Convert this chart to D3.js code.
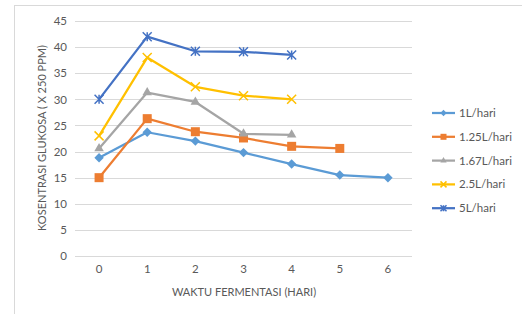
<!DOCTYPE html>
<html>
<head>
<meta charset="utf-8">
<script src="https://cdn.jsdelivr.net/npm/d3@7"></script>
<style>
  body { margin: 0; background: #fff; }
  text { font-family: Lato, "Open Sans", sans-serif; fill: #595959; }
</style>
</head>
<body>
<svg id="chart" width="522" height="314"></svg>
<script>
// data
var days = [0, 1, 2, 3, 4, 5, 6];
var yTicks = [0, 5, 10, 15, 20, 25, 30, 35, 40, 45];
var seriesNames = ["1L/hari", "1.25L/hari", "1.67L/hari", "2.5L/hari", "5L/hari"];
var s1L = [18.8, 23.7, 22.0, 19.8, 17.6, 15.5, 15.0];
var s125L = [15.0, 26.3, 23.8, 22.6, 21.0, 20.6];
var s167L = [20.6, 31.3, 29.5, 23.4, 23.2];
var s25L = [23.0, 38.0, 32.4, 30.7, 30.0];
var s5L = [30.0, 42.0, 39.2, 39.1, 38.5];

var colors = ["#5b9bd5", "#ed7d31", "#a5a5a5", "#ffc000", "#4472c4"];
var markers = ["diamond", "square", "triangle", "x", "star"];
var allSeries = [s1L, s125L, s167L, s25L, s5L].map(function(vals, i) {
    return { name: seriesNames[i], color: colors[i], marker: markers[i],
             points: vals.map(function(v, j) { return { day: days[j], value: v }; }) };
});

var svg = d3.select("#chart");

// outer chart border (right/bottom sit outside the crop)
svg.append("rect")
    .attr("x", 14.5).attr("y", 5.5)
    .attr("width", 540).attr("height", 340)
    .attr("fill", "none").attr("stroke", "#d9d9d9");

var x = d3.scaleBand().domain(days).range([75, 412]);
var y = d3.scaleLinear().domain([0, 45]).range([256, 21]);

// gridlines
svg.append("g").selectAll("line")
    .data(yTicks)
    .enter().append("line")
    .attr("x1", 75).attr("x2", 412)
    .attr("y1", function(d) { return Math.round(y(d)) + 0.5; })
    .attr("y2", function(d) { return Math.round(y(d)) + 0.5; })
    .attr("stroke", "#d9d9d9").attr("stroke-width", 1);

var yAxis = svg.append("g")
    .attr("transform", "translate(67,0)")
    .call(d3.axisLeft(y).tickValues(yTicks).tickSize(0).tickPadding(0));
yAxis.select(".domain").remove();
yAxis.selectAll("text").style("font-size", "11.5px").style("font-family", "Lato, sans-serif").attr("fill", "#595959");

var xAxis = svg.append("g")
    .attr("transform", "translate(0,265)")
    .call(d3.axisBottom(x).tickSize(0).tickPadding(0));
xAxis.select(".domain").remove();
xAxis.selectAll("text").style("font-size", "11.5px").style("font-family", "Lato, sans-serif").attr("fill", "#595959");

svg.append("text")
    .attr("x", 244).attr("y", 296)
    .attr("text-anchor", "middle")
    .style("font-size", "11px")
    .text("WAKTU FERMENTASI (HARI)");

svg.append("text")
    .attr("transform", "translate(46,138) rotate(-90)")
    .attr("text-anchor", "middle")
    .style("font-size", "11px")
    .text("KOSENTRASI GLUKOSA ( X 250 PPM)");

var cx = function(d) { return x(d.day) + x.bandwidth() / 2; };

var line = d3.line()
    .x(cx)
    .y(function(d) { return y(d.value); });

function drawMarker(g, kind, color, size) {
    var h = size / 2;
    if (kind === "diamond") {
        g.append("path").attr("d", d3.symbol(d3.symbolDiamond2, size * size * 0.7)())
            .attr("fill", color);
    } else if (kind === "square") {
        g.append("rect").attr("x", -h).attr("y", -h).attr("width", size).attr("height", size)
            .attr("fill", color);
    } else if (kind === "triangle") {
        g.append("path").attr("d", d3.symbol(d3.symbolTriangle2, size * size * 0.8)())
            .attr("fill", color);
    } else {
        var p = "M" + (-h) + "," + (-h) + "L" + h + "," + h + "M" + h + "," + (-h) + "L" + (-h) + "," + h;
        if (kind === "star") p += "M0," + (-h) + "L0," + h;
        g.append("path").attr("d", p).attr("stroke", color).attr("stroke-width", 1.5).attr("fill", "none");
    }
}

var series = svg.append("g").selectAll("g.series")
    .data(allSeries)
    .enter().append("g")
    .attr("class", "series");

series.append("path")
    .attr("d", function(d) { return line(d.points); })
    .attr("fill", "none")
    .attr("stroke", function(d) { return d.color; })
    .attr("stroke-width", 2.25)
    .attr("stroke-linejoin", "round");

series.each(function(s) {
    d3.select(this).selectAll("g.marker")
        .data(s.points)
        .enter().append("g")
        .attr("class", "marker")
        .attr("transform", function(d) { return "translate(" + cx(d) + "," + y(d.value) + ")"; })
        .each(function() { drawMarker(d3.select(this), s.marker, s.color, 9); });
});

// legend
var legend = svg.append("g").selectAll("g")
    .data(allSeries)
    .enter().append("g")
    .attr("transform", function(d, i) { return "translate(432," + (113 + i * 23.8) + ")"; });

legend.append("line")
    .attr("x1", 0).attr("x2", 23)
    .attr("stroke", function(d) { return d.color; })
    .attr("stroke-width", 2.25);

legend.each(function(s) {
    var g = d3.select(this).append("g").attr("transform", "translate(11.5,0)");
    drawMarker(g, s.marker, s.color, 6);
});

legend.append("text")
    .attr("x", 27).attr("dy", "0.35em")
    .style("font-size", "11.5px")
    .text(function(d) { return d.name; });
</script>
</body>
</html>
